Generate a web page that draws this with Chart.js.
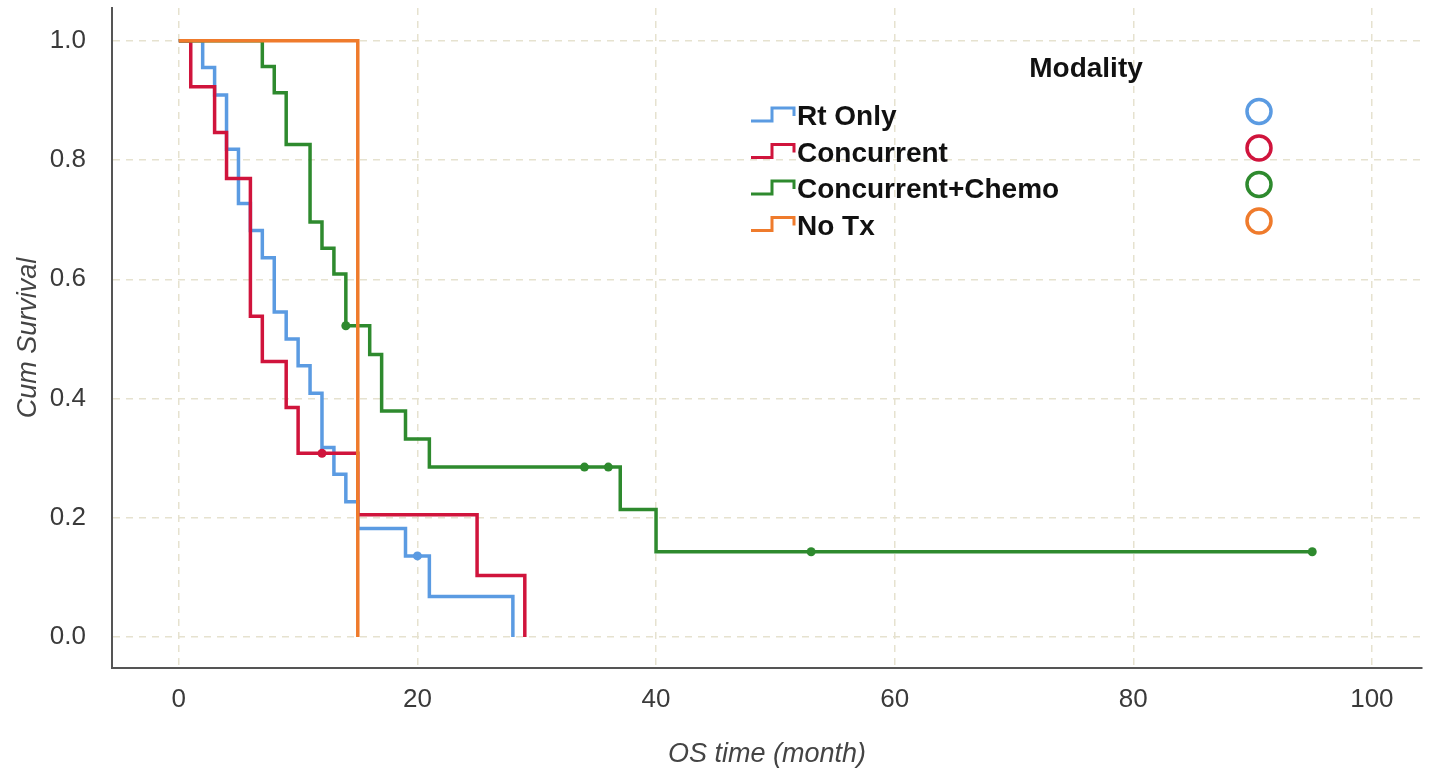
<!DOCTYPE html>
<html>
<head>
<meta charset="utf-8">
<title>Survival Functions</title>
<script src="https://cdn.jsdelivr.net/npm/chart.js@4.4.1/dist/chart.umd.min.js"></script>
<style>
    html, body { margin: 0; padding: 0; background: #ffffff; }
    #wrap { width: 1446px; height: 777px; }
</style>
</head>
<body>
<div id="wrap"><canvas id="kmChart" width="1446" height="777"></canvas></div>
<script>
// Kaplan-Meier steps (time in months, cumulative survival)
const rtTimes = [0, 2, 3, 4, 5, 6, 7, 8, 9, 10, 11, 12, 13, 14, 15, 19, 20, 21, 28];
const rtSurv = [1, 0.955, 0.909, 0.818, 0.727, 0.682, 0.636, 0.545, 0.500, 0.455, 0.409, 0.318, 0.273, 0.227, 0.182, 0.136, 0.136, 0.068, 0];
const rtCensorT = [20];
const rtCensorS = [0.136];

const concTimes = [0, 1, 3, 4, 6, 7, 9, 10, 12, 15, 25, 29];
const concSurv = [1, 0.923, 0.846, 0.769, 0.538, 0.462, 0.385, 0.308, 0.308, 0.205, 0.103, 0];
const concCensorT = [12];
const concCensorS = [0.308];

const chemoTimes = [0, 7, 8, 9, 11, 12, 13, 14, 16, 17, 19, 21, 34, 36, 37, 40, 53, 95];
const chemoSurv = [1, 0.957, 0.913, 0.826, 0.696, 0.652, 0.609, 0.522, 0.474, 0.379, 0.332, 0.285, 0.285, 0.285, 0.214, 0.143, 0.143, 0.143];
const chemoCensorT = [14, 34, 36, 53, 95];
const chemoCensorS = [0.522, 0.285, 0.285, 0.143, 0.143];

const noTxTimes = [0, 15];
const noTxSurv = [1, 0];

// Legend
const groupNames = ['Rt Only', 'Concurrent', 'Concurrent+Chemo', 'No Tx'];
const groupColors = ['#5b9be2', '#d0143c', '#2e8a2e', '#ef7b2c'];

// Axis ticks
const xTicks = [0, 20, 40, 60, 80, 100];
const yTicks = [0, 0.2, 0.4, 0.6, 0.8, 1.0];

const FONT = "'Liberation Sans', Arial, sans-serif";

function toPoints(ts, ss) {
    return ts.map((t, i) => ({ x: t, y: ss[i] }));
}

function stepSet(label, ts, ss, color, order) {
    return {
        label: label,
        data: toPoints(ts, ss),
        borderColor: color,
        backgroundColor: color,
        borderWidth: 3.5,
        stepped: 'before',
        pointRadius: 0,
        fill: false,
        order: order
    };
}

function censorSet(label, ts, ss, color, order) {
    return {
        label: label,
        data: toPoints(ts, ss),
        showLine: false,
        borderColor: color,
        backgroundColor: color,
        pointRadius: 4.5,
        pointBorderWidth: 0,
        order: order
    };
}

// Draws the SPSS style legend: title, step icons, names and open circles
const modalityLegend = {
    id: 'modalityLegend',
    afterDraw(chart) {
        const ctx = chart.ctx;
        ctx.save();
        ctx.fillStyle = '#111';
        ctx.font = 'bold 28px ' + FONT;
        ctx.textAlign = 'center';
        ctx.textBaseline = 'alphabetic';
        ctx.fillText('Modality', 1086, 77);

        groupNames.forEach((name, i) => {
            const base = 125 + i * 36.5;
            const color = groupColors[i];
            // step icon
            ctx.strokeStyle = color;
            ctx.lineWidth = 3;
            ctx.beginPath();
            ctx.moveTo(751, base - 4);
            ctx.lineTo(772, base - 4);
            ctx.lineTo(772, base - 17);
            ctx.lineTo(794, base - 17);
            ctx.lineTo(794, base - 9);
            ctx.stroke();
            // name
            ctx.fillStyle = '#111';
            ctx.textAlign = 'left';
            ctx.fillText(name, 797, base);
            // open circle
            ctx.lineWidth = 3.5;
            ctx.beginPath();
            ctx.arc(1259, base - 13.5, 12, 0, Math.PI * 2);
            ctx.stroke();
        });
        ctx.restore();
    }
};

const gridStyle = {
    color: '#e6e2cf',
    lineWidth: 1.5,
    drawTicks: false
};

new Chart(document.getElementById('kmChart'), {
    type: 'line',
    data: {
        datasets: [
            stepSet(groupNames[0], rtTimes, rtSurv, groupColors[0], 3),
            stepSet(groupNames[1], concTimes, concSurv, groupColors[1], 2),
            stepSet(groupNames[2], chemoTimes, chemoSurv, groupColors[2], 1),
            stepSet(groupNames[3], noTxTimes, noTxSurv, groupColors[3], 0),
            censorSet('Rt Only censored', rtCensorT, rtCensorS, groupColors[0], 3),
            censorSet('Concurrent censored', concCensorT, concCensorS, groupColors[1], 2),
            censorSet('Concurrent+Chemo censored', chemoCensorT, chemoCensorS, groupColors[2], 1)
        ]
    },
    options: {
        responsive: false,
        animation: false,
        layout: { padding: { top: 8, right: 24, left: 0, bottom: 0 } },
        plugins: {
            legend: { display: false },
            tooltip: { enabled: false }
        },
        scales: {
            x: {
                type: 'linear',
                min: -5.6,
                max: 104.2,
                afterFit: (s) => { s.height = 109; s.paddingLeft = 0; s.paddingRight = 0; },
                afterBuildTicks: (s) => { s.ticks = xTicks.map(v => ({ value: v })); },
                grid: gridStyle,
                border: { display: true, color: '#555', width: 2, dash: [7, 6] },
                ticks: {
                    padding: 16,
                    color: '#3a3a3a',
                    font: { family: FONT, size: 26 },
                    callback: (v) => String(v)
                },
                title: {
                    display: true,
                    text: 'OS time (month)',
                    color: '#444',
                    font: { family: FONT, size: 27, style: 'italic' },
                    padding: { top: 0, bottom: 6 }
                }
            },
            y: {
                type: 'linear',
                min: -0.052,
                max: 1.055,
                afterFit: (s) => { s.width = 112; s.paddingTop = 0; s.paddingBottom = 0; },
                afterBuildTicks: (s) => { s.ticks = yTicks.map(v => ({ value: v })); },
                grid: gridStyle,
                border: { display: true, color: '#555', width: 2, dash: [7, 6] },
                ticks: {
                    padding: 26,
                    color: '#3a3a3a',
                    font: { family: FONT, size: 26 },
                    callback: (v) => v.toFixed(1)
                },
                title: {
                    display: true,
                    text: 'Cum Survival',
                    color: '#444',
                    font: { family: FONT, size: 27, style: 'italic' },
                    padding: { top: 12, bottom: 0 }
                }
            }
        }
    },
    plugins: [modalityLegend]
});
</script>
</body>
</html>
